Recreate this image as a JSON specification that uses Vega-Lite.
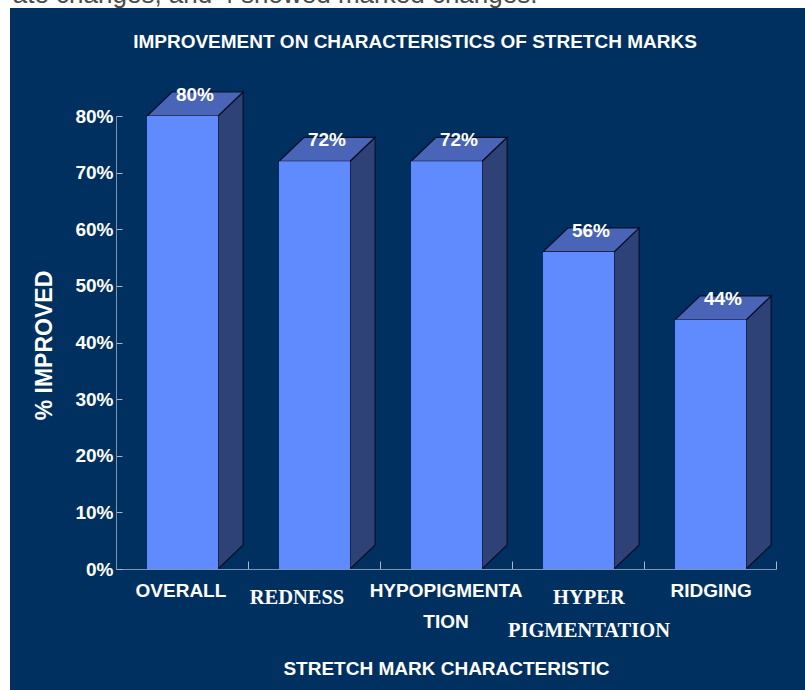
{
"$schema":"https://vega.github.io/schema/vega-lite/v6.json",
"width":805,"height":690,"padding":0,"autosize":{"type":"none"},"background":"white",
"config":{"view":{"stroke":null}},
"datasets":{
"caption":[{"x":1.205,"y":100.0,"label":"ate changes, and 4 showed marked changes."}],
"panel":[{"x":-0.803,"x2":5.22,"y":99.07,"y2":-21.4}],
"bars":[
{"name":"OVERALL","x":0.235,"x2":0.773,"y":80,"y2":0},
{"name":"REDNESS","x":1.235,"x2":1.773,"y":72,"y2":0},
{"name":"HYPOPIGMENTATION","x":2.235,"x2":2.773,"y":72,"y2":0},
{"name":"HYPER PIGMENTATION","x":3.235,"x2":3.773,"y":56,"y2":0},
{"name":"RIDGING","x":4.235,"x2":4.773,"y":44,"y2":0}],
"faces":[
{"id":"s1","kind":"side","x":0.773,"y":80,"y2":0},{"id":"s1","kind":"side","x":0.963,"y":84.24,"y2":4.24},
{"id":"s2","kind":"side","x":1.773,"y":72,"y2":0},{"id":"s2","kind":"side","x":1.963,"y":76.24,"y2":4.24},
{"id":"s3","kind":"side","x":2.773,"y":72,"y2":0},{"id":"s3","kind":"side","x":2.963,"y":76.24,"y2":4.24},
{"id":"s4","kind":"side","x":3.773,"y":56,"y2":0},{"id":"s4","kind":"side","x":3.963,"y":60.24,"y2":4.24},
{"id":"s5","kind":"side","x":4.773,"y":44,"y2":0},{"id":"s5","kind":"side","x":4.963,"y":48.24,"y2":4.24},
{"id":"t1","kind":"top","x":0.235,"y":80,"y2":80},{"id":"t1","kind":"top","x":0.425,"y":84.24,"y2":80},{"id":"t1","kind":"top","x":0.773,"y":84.24,"y2":80},{"id":"t1","kind":"top","x":0.963,"y":84.24,"y2":84.24},
{"id":"t2","kind":"top","x":1.235,"y":72,"y2":72},{"id":"t2","kind":"top","x":1.425,"y":76.24,"y2":72},{"id":"t2","kind":"top","x":1.773,"y":76.24,"y2":72},{"id":"t2","kind":"top","x":1.963,"y":76.24,"y2":76.24},
{"id":"t3","kind":"top","x":2.235,"y":72,"y2":72},{"id":"t3","kind":"top","x":2.425,"y":76.24,"y2":72},{"id":"t3","kind":"top","x":2.773,"y":76.24,"y2":72},{"id":"t3","kind":"top","x":2.963,"y":76.24,"y2":76.24},
{"id":"t4","kind":"top","x":3.235,"y":56,"y2":56},{"id":"t4","kind":"top","x":3.425,"y":60.24,"y2":56},{"id":"t4","kind":"top","x":3.773,"y":60.24,"y2":56},{"id":"t4","kind":"top","x":3.963,"y":60.24,"y2":60.24},
{"id":"t5","kind":"top","x":4.235,"y":44,"y2":44},{"id":"t5","kind":"top","x":4.425,"y":48.24,"y2":44},{"id":"t5","kind":"top","x":4.773,"y":48.24,"y2":44},{"id":"t5","kind":"top","x":4.963,"y":48.24,"y2":48.24}],
"sans":[
{"x":2.265,"y":93.1,"label":"IMPROVEMENT ON CHARACTERISTICS OF STRETCH MARKS"},
{"x":0.598,"y":83.7,"label":"80%"},{"x":1.598,"y":75.8,"label":"72%"},{"x":2.598,"y":75.8,"label":"72%"},{"x":3.598,"y":59.7,"label":"56%"},{"x":4.598,"y":47.7,"label":"44%"},
{"x":0.492,"y":-3.9,"label":"OVERALL"},{"x":2.5,"y":-3.9,"label":"HYPOPIGMENTA"},{"x":2.5,"y":-9.4,"label":"TION"},{"x":4.508,"y":-3.9,"label":"RIDGING"}],
"serif":[
{"x":1.371,"y":-5.1,"label":"REDNESS"},{"x":3.583,"y":-5.1,"label":"HYPER"},{"x":3.583,"y":-10.95,"label":"PIGMENTATION"}]
},
"encoding":{
"x":{"field":"x","type":"quantitative","scale":{"domain":[0,5],"range":[116,776],"clamp":false,"nice":false,"zero":false},
 "axis":{"zindex":1,"offset":-121,"values":[0,1,2,3,4,5],"labels":false,"grid":false,"tickSize":-8,"tickColor":"#a9b8cf","domainColor":"#7f93b5","tickWidth":1,"domainWidth":1,
 "title":"STRETCH MARK CHARACTERISTIC","titleColor":"white","titleFont":"Liberation Sans","titleFontWeight":"bold","titleFontSize":19,"titleX":446,"titleY":99,"titleAlign":"center","titleBaseline":"middle","titleAnchor":null}},
"y":{"field":"y","type":"quantitative","scale":{"domain":[0,80],"range":[569,116],"nice":false,"zero":false},
 "axis":{"zindex":1,"offset":-116,"values":[0,10,20,30,40,50,60,70,80],"labelExpr":"datum.value + '%'","grid":false,"tickSize":-6,"labelPadding":9,"tickColor":"#a9b8cf","domainColor":"#7f93b5","labelColor":"white","labelFont":"Liberation Sans","labelFontWeight":"bold","labelFontSize":19,
 "title":"% IMPROVED","titleColor":"white","titleFont":"Liberation Sans","titleFontWeight":"bold","titleFontSize":23,"titleX":-72,"titleY":345,"titleAngle":270,"titleAlign":"center","titleBaseline":"middle","titleAnchor":null}}
},
"layer":[
{"data":{"name":"caption"},"mark":{"type":"text","font":"Liberation Sans","fontSize":26,"color":"#4a4a4a","align":"center","baseline":"alphabetic"},"encoding":{"text":{"field":"label"}}},
{"data":{"name":"panel"},"mark":{"type":"rect","color":"#00305f"},"encoding":{"x2":{"field":"x2"},"y2":{"field":"y2"}}},
{"data":{"name":"faces"},"mark":{"type":"area","stroke":"#0a0f25","strokeWidth":1.2,"fillOpacity":1},"encoding":{"y2":{"field":"y2"},"detail":{"field":"id"},"color":{"field":"kind","type":"nominal","legend":null,"scale":{"domain":["side","top"],"range":["#2e4278","#4a65b8"]}}}},
{"data":{"name":"bars"},"mark":{"type":"rect","color":"#5f8bff"},"encoding":{"x2":{"field":"x2"},"y2":{"field":"y2"}}},
{"data":{"name":"sans"},"mark":{"type":"text","font":"Liberation Sans","fontWeight":"bold","fontSize":19,"color":"white","align":"center","baseline":"middle"},"encoding":{"text":{"field":"label"}}},
{"data":{"name":"serif"},"mark":{"type":"text","font":"Liberation Serif","fontWeight":"bold","fontSize":20.5,"color":"white","align":"center","baseline":"middle"},"encoding":{"text":{"field":"label"}}}
]
}
